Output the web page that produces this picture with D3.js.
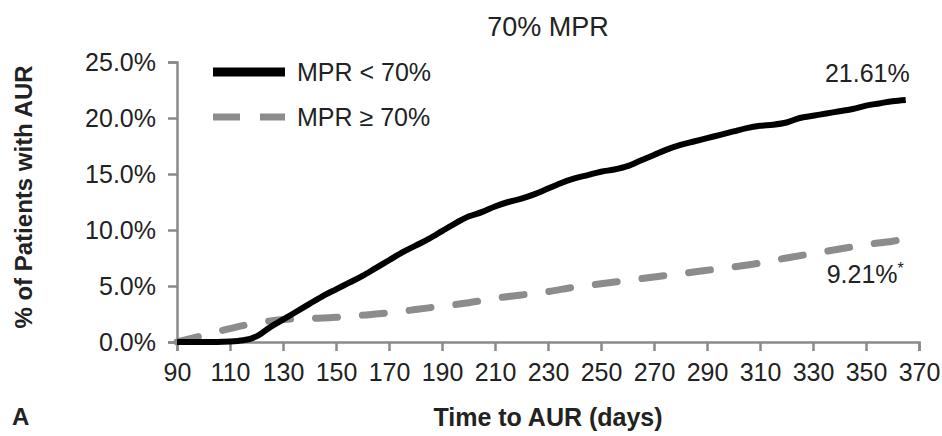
<!DOCTYPE html>
<html>
<head>
<meta charset="utf-8">
<script src="https://cdn.jsdelivr.net/npm/d3@7"></script>
<style>
  body { margin: 0; background: #fff; }
  svg { font-family: "Liberation Sans", Arial, sans-serif; }
  .axis path, .axis line { stroke: #8a8a8a; stroke-width: 2.5; }
  .axis text { font-size: 25px; fill: #222; }
</style>
</head>
<body>
<svg id="chart" width="942" height="436"></svg>
<script>
// days since start
var daysLow = [90, 100, 110, 115, 120, 125, 130, 135, 140, 145, 150, 155, 160, 165, 170, 175, 180, 185, 190, 195, 200, 205, 210, 215, 220, 225, 230, 235, 240, 245, 250, 255, 260, 265, 270, 275, 280, 285, 290, 295, 300, 305, 310, 315, 320, 325, 330, 335, 340, 345, 350, 355, 360, 365];
// MPR < 70%, cumulative % with AUR
var mprLow = [0, 0, 0.05, 0.15, 0.5, 1.3, 2.0, 2.7, 3.4, 4.1, 4.7, 5.3, 5.9, 6.6, 7.3, 8.0, 8.6, 9.2, 9.9, 10.6, 11.2, 11.6, 12.1, 12.5, 12.8, 13.2, 13.7, 14.2, 14.6, 14.9, 15.2, 15.4, 15.7, 16.2, 16.7, 17.2, 17.6, 17.9, 18.2, 18.5, 18.8, 19.1, 19.3, 19.4, 19.6, 20.0, 20.2, 20.4, 20.6, 20.8, 21.1, 21.3, 21.5, 21.61];

var daysHigh = [90, 100, 110, 120, 130, 140, 150, 160, 170, 180, 190, 200, 210, 220, 230, 240, 250, 260, 270, 280, 290, 300, 310, 320, 330, 340, 350, 360, 365];
// MPR >= 70%
var mprHigh = [0, 0.6, 1.2, 1.7, 2.0, 2.1, 2.2, 2.4, 2.6, 2.9, 3.2, 3.5, 3.9, 4.2, 4.5, 4.9, 5.2, 5.5, 5.8, 6.1, 6.4, 6.7, 7.05, 7.5, 7.9, 8.3, 8.7, 9.0, 9.21];

var xTicks = [90, 110, 130, 150, 170, 190, 210, 230, 250, 270, 290, 310, 330, 350, 370];
var yTicks = [0, 5, 10, 15, 20, 25];
var seriesNames = ["MPR < 70%", "MPR \u2265 70%"];

var margin = {top: 62, right: 23, bottom: 94, left: 177},
    width = 942 - margin.left - margin.right,
    height = 436 - margin.top - margin.bottom;

var svg = d3.select("#chart");
var g = svg.append("g")
    .attr("transform", "translate(" + margin.left + "," + margin.top + ")");

var x = d3.scaleLinear().domain([90, 370]).range([0, width]);
var y = d3.scaleLinear().domain([0, 25]).range([height, 0]);

// axes
g.append("g")
    .attr("class", "axis")
    .attr("transform", "translate(0," + height + ")")
    .call(d3.axisBottom(x).tickValues(xTicks).tickSize(9).tickSizeOuter(9).tickPadding(12))
    .selectAll("text").attr("dy", "0.71em");

g.append("g")
    .attr("class", "axis")
    .call(d3.axisLeft(y).tickValues(yTicks).tickSize(9).tickSizeOuter(9).tickPadding(12)
        .tickFormat(function(d) { return d.toFixed(1) + "%"; }));

// lines
var lineLow = d3.line()
    .x(function(d, i) { return x(daysLow[i]); })
    .y(function(d) { return y(d); })
    .curve(d3.curveMonotoneX);

var lineHigh = d3.line()
    .x(function(d, i) { return x(daysHigh[i]); })
    .y(function(d) { return y(d); })
    .curve(d3.curveMonotoneX);

g.append("path")
    .datum(mprHigh)
    .attr("fill", "none")
    .attr("stroke", "#8c8c8c")
    .attr("stroke-width", 7)
    .attr("stroke-dasharray", "22,25")
    .attr("stroke-linecap", "round")
    .attr("d", lineHigh);

g.append("path")
    .datum(mprLow)
    .attr("fill", "none")
    .attr("stroke", "#000")
    .attr("stroke-width", 6)
    .attr("stroke-linejoin", "round")
    .attr("d", lineLow);

// end labels
g.append("text")
    .attr("x", x(365) + 4)
    .attr("y", y(mprLow[mprLow.length - 1]) - 18)
    .attr("text-anchor", "end")
    .style("font-size", "25px").style("fill", "#222")
    .text("21.61%");

var lblHigh = g.append("text")
    .attr("x", x(365) - 2)
    .attr("y", y(mprHigh[mprHigh.length - 1]) + 44)
    .attr("text-anchor", "end")
    .style("font-size", "25px").style("fill", "#222");
lblHigh.append("tspan").text("9.21%");
lblHigh.append("tspan")
    .attr("dy", -9)
    .style("font-size", "16px")
    .text("*");

// legend
var legend = svg.append("g").attr("transform", "translate(213,72)");
legend.append("line")
    .attr("x1", 0).attr("x2", 72).attr("y1", 0).attr("y2", 0)
    .attr("stroke", "#000").attr("stroke-width", 9);
legend.append("line")
    .attr("x1", 0).attr("x2", 72).attr("y1", 45).attr("y2", 45)
    .attr("stroke", "#8c8c8c").attr("stroke-width", 7)
    .attr("stroke-dasharray", "27,20");
legend.selectAll("text.leg")
    .data(seriesNames)
    .enter().append("text")
    .attr("x", 84)
    .attr("y", function(d, i) { return 9 + i * 45; })
    .style("font-size", "25px").style("fill", "#222")
    .text(function(d) { return d; });

// title
svg.append("text")
    .attr("x", margin.left + width / 2)
    .attr("y", 36)
    .attr("text-anchor", "middle")
    .style("font-size", "27px").style("fill", "#222")
    .text("70% MPR");

// axis titles
svg.append("text")
    .attr("x", margin.left + width / 2)
    .attr("y", 426)
    .attr("text-anchor", "middle")
    .style("font-size", "25px").style("font-weight", "bold").style("fill", "#222")
    .text("Time to AUR (days)");

svg.append("text")
    .attr("transform", "translate(32," + (margin.top + height / 2 - 5) + ") rotate(-90)")
    .attr("text-anchor", "middle")
    .style("font-size", "24px").style("font-weight", "bold").style("fill", "#222")
    .text("% of Patients with AUR");

svg.append("text")
    .attr("x", 12)
    .attr("y", 425)
    .style("font-size", "24px").style("font-weight", "bold").style("fill", "#222")
    .text("A");
</script>
</body>
</html>
